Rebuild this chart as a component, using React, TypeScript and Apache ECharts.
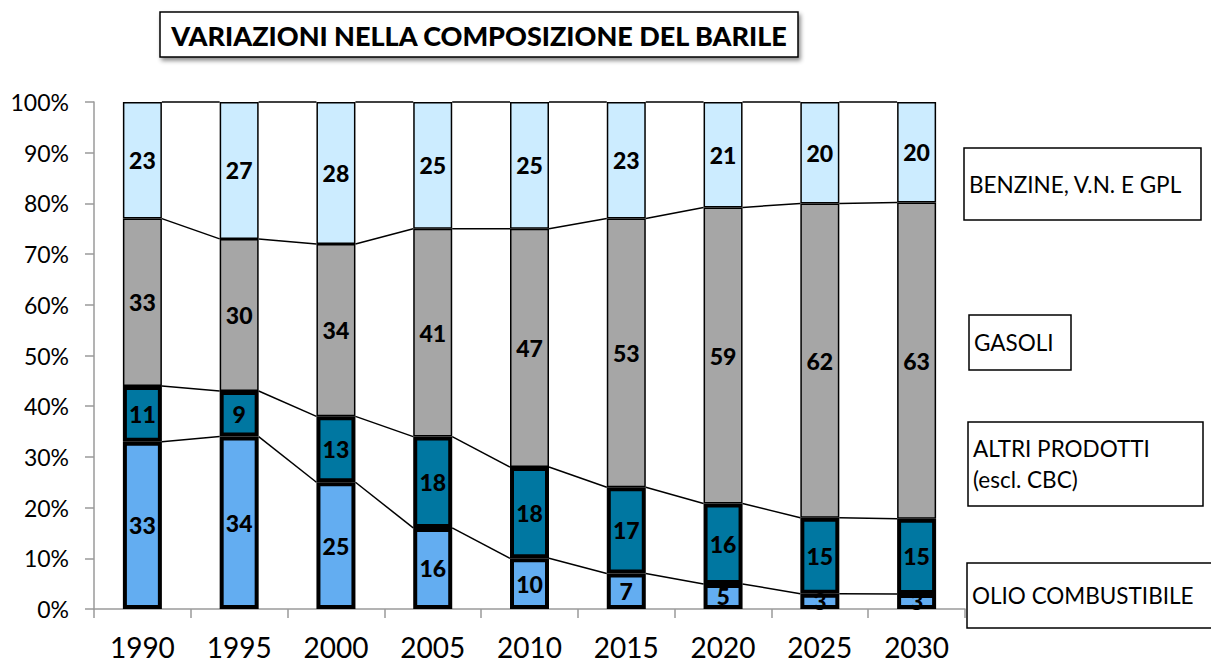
import React, { useEffect, useRef } from "react";
import * as echarts from "echarts";

const years = ["1990", "1995", "2000", "2005", "2010", "2015", "2020", "2025", "2030"];
const olio = [33, 34, 25, 16, 10, 7, 5, 3, 3];
const altri = [11, 9, 13, 18, 18, 17, 16, 15, 15];
const gasoli = [33, 30, 34, 41, 47, 53, 59, 62, 63];
const benzine = [23, 27, 28, 25, 25, 23, 21, 20, 20];
const seriesNames = ["OLIO COMBUSTIBILE", "ALTRI PRODOTTI (escl. CBC)", "GASOLI", "BENZINE, V.N. E GPL"];
const titleText = "VARIAZIONI NELLA COMPOSIZIONE DEL BARILE";

const FONT = "Lato";
const BAR_W = 39;

export default function App() {
  const ref = useRef<HTMLDivElement>(null);
  useEffect(() => {
    if (!ref.current) return;
    const chart = echarts.init(ref.current, null, { renderer: "svg" });
    const raw = [olio, altri, gasoli, benzine];
    const totals = years.map((_, i) => raw.reduce((s, arr) => s + arr[i], 0));
    const pct = raw.map((arr) => arr.map((v, i) => (v / totals[i]) * 100));
    const cum: number[][] = [];
    let run = years.map(() => 0);
    pct.forEach((arr) => {
      run = run.map((r, i) => r + arr[i]);
      cum.push(run.slice());
    });
    const lineData: number[][] = [];
    cum.forEach((lvl) => {
      for (let i = 0; i < years.length - 1; i++) lineData.push([i, lvl[i], lvl[i + 1]]);
    });
    const colors = ["#63ADF1", "#0077A1", "#A6A6A6", "#CCECFF"];
    const borders = [4, 4, 1.5, 1.5];

    const bars = raw.map((arr, k) => ({
      type: "bar",
      name: seriesNames[k],
      stack: "tot",
      barWidth: BAR_W,
      data: pct[k],
      itemStyle: { color: colors[k], borderColor: "#000", borderWidth: borders[k] },
      label: {
        show: true,
        position: "inside",
        formatter: (p: any) => String(arr[p.dataIndex]),
        color: "#000",
        fontFamily: FONT,
        fontWeight: 900,
        fontSize: 23,
      },
      z: 3,
    }));

    const legendBoxes = [
      { x: 964, y: 148, w: 237, h: 72, lines: ["BENZINE, V.N. E GPL"] },
      { x: 969, y: 315, w: 102, h: 55, lines: ["GASOLI"] },
      { x: 968, y: 422, w: 235, h: 84, lines: ["ALTRI PRODOTTI", "(escl. CBC)"] },
      { x: 967, y: 563, w: 250, h: 65, lines: ["OLIO COMBUSTIBILE"] },
    ];
    const graphics: any[] = [
      {
        type: "rect",
        shape: { x: 160, y: 12, width: 638, height: 45 },
        style: { fill: "#fff", stroke: "#000", lineWidth: 1.5, shadowBlur: 4, shadowOffsetX: 2, shadowOffsetY: 3, shadowColor: "rgba(0,0,0,0.45)" },
        z: 10,
      },
      {
        type: "text",
        x: 479,
        y: 35,
        style: { text: titleText, fill: "#000", font: `900 27px ${FONT}`, align: "center", verticalAlign: "middle" },
        z: 11,
      },
    ];
    legendBoxes.forEach((b) => {
      graphics.push({
        type: "rect",
        shape: { x: b.x, y: b.y, width: b.w, height: b.h },
        style: { fill: "#fff", stroke: "#000", lineWidth: 1.5 },
        z: 10,
      });
      const lh = 31;
      const cy = b.y + b.h / 2 - ((b.lines.length - 1) * lh) / 2;
      b.lines.forEach((t, j) => {
        graphics.push({
          type: "text",
          x: b.x + 5,
          y: cy + j * lh,
          style: { text: t, fill: "#000", font: `22.5px ${FONT}`, align: "left", verticalAlign: "middle" },
          z: 11,
        });
      });
    });

    chart.setOption({
      animation: false,
      grid: { left: 94, top: 102, width: 871, height: 507 },
      xAxis: {
        type: "category",
        data: years,
        boundaryGap: true,
        axisLine: { lineStyle: { color: "#9a9a9a", width: 1.5 } },
        axisTick: { show: true, length: 9, lineStyle: { color: "#9a9a9a", width: 1.5 } },
        axisLabel: { color: "#000", fontFamily: FONT, fontSize: 28, margin: 24 },
      },
      yAxis: {
        type: "value",
        min: 0,
        max: 100,
        interval: 10,
        axisLine: { show: true, lineStyle: { color: "#9a9a9a", width: 1.5 } },
        axisTick: { show: true, length: 9, lineStyle: { color: "#9a9a9a", width: 1.5 } },
        splitLine: { show: false },
        axisLabel: { formatter: "{value}%", color: "#000", fontFamily: FONT, fontSize: 23, margin: 25 },
      },
      series: [
        ...bars,
        {
          type: "custom",
          name: "serieslines",
          data: lineData,
          encode: { x: 0, y: 1 },
          renderItem: (params: any, api: any) => {
            const i = api.value(0);
            const a = api.coord([i, api.value(1)]);
            const b = api.coord([i + 1, api.value(2)]);
            return {
              type: "line",
              shape: { x1: a[0] + BAR_W / 2, y1: a[1], x2: b[0] - BAR_W / 2, y2: b[1] },
              style: { stroke: "#000", lineWidth: 1.5 },
            };
          },
          z: 2,
          silent: true,
        },
      ],
      graphic: graphics,
    });
    return () => chart.dispose();
  }, []);
  return <div ref={ref} style={{ position: "fixed", left: 0, top: 0, width: 1211, height: 663, background: "#fff" }} />;
}
